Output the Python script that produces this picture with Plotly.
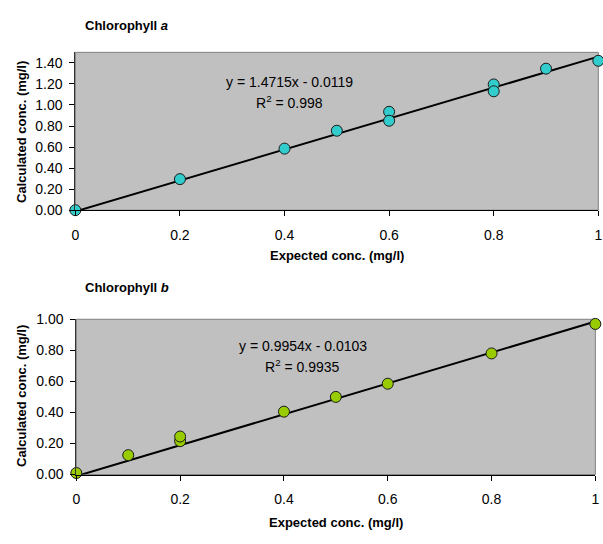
import plotly.graph_objects as go

W, H = 603, 544

# ---- data: Chlorophyll a ----
chl_a_expected = [0, 0.2, 0.4, 0.5, 0.6, 0.6, 0.8, 0.8, 0.9, 1.0]
chl_a_calculated = [0.0, 0.295, 0.585, 0.755, 0.935, 0.85, 1.195, 1.13, 1.345, 1.42]
chl_a_slope = 1.4715
chl_a_intercept = -0.0119
chl_a_r2 = "0.998"

# ---- data: Chlorophyll b ----
chl_b_expected = [0, 0.1, 0.2, 0.2, 0.4, 0.5, 0.6, 0.8, 1.0]
chl_b_calculated = [0.01, 0.125, 0.215, 0.245, 0.405, 0.50, 0.585, 0.78, 0.97]
chl_b_slope = 0.9954
chl_b_intercept = -0.0103
chl_b_r2 = "0.9935"

x_ticks = [0, 0.2, 0.4, 0.6, 0.8, 1]
ya_ticks = [0, 0.2, 0.4, 0.6, 0.8, 1.0, 1.2, 1.4]
yb_ticks = [0, 0.2, 0.4, 0.6, 0.8, 1.0]

FONT = "Liberation Sans, Arial, sans-serif"


def px_x(p):
    return p / W


def px_y(p):
    return 1 - p / H


fig = go.Figure()

# trendlines
for xs, slope, icpt, xa, ya in [
    (chl_a_expected, chl_a_slope, chl_a_intercept, "x", "y"),
    (chl_b_expected, chl_b_slope, chl_b_intercept, "x2", "y2"),
]:
    lx = [min(xs), max(xs)]
    ly = [slope * v + icpt for v in lx]
    fig.add_trace(go.Scatter(x=lx, y=ly, mode="lines", xaxis=xa, yaxis=ya,
                             line=dict(color="black", width=2),
                             showlegend=False, hoverinfo="skip"))

fig.add_trace(go.Scatter(x=chl_a_expected, y=chl_a_calculated, mode="markers",
                         xaxis="x", yaxis="y", cliponaxis=False,
                         marker=dict(size=11, color="#33CCCC",
                                     line=dict(color="#1a1a1a", width=1)),
                         showlegend=False))
fig.add_trace(go.Scatter(x=chl_b_expected, y=chl_b_calculated, mode="markers",
                         xaxis="x2", yaxis="y2", cliponaxis=False,
                         marker=dict(size=11, color="#99CC00",
                                     line=dict(color="#1a1a1a", width=1)),
                         showlegend=False))

xcommon = dict(range=[0, 1], tickvals=x_ticks, ticktext=[f"{v:g}" for v in x_ticks],
               showgrid=False, zeroline=False, showline=True, linecolor="black",
               linewidth=1, ticks="outside", ticklen=5, tickcolor="black",
               tickfont=dict(family=FONT, size=14, color="black"),
               ticklabelstandoff=7, ticklabeloverflow="allow")
ycommon = dict(showgrid=False, zeroline=False, showline=True, linecolor="#333333",
               linewidth=1, ticks="outside", ticklen=5, tickcolor="black",
               tickformat=".2f",
               tickfont=dict(family=FONT, size=14, color="black"),
               ticklabelstandoff=4)

fig.update_layout(
    width=W, height=H,
    margin=dict(l=0, r=0, t=0, b=0),
    paper_bgcolor="white",
    plot_bgcolor="#C0C0C0",
    font=dict(family=FONT, color="black"),
    xaxis=dict(domain=[px_x(72.3), px_x(602.3)], anchor="y", **xcommon),
    yaxis=dict(domain=[px_y(208.3), px_y(45.7)], anchor="x", range=[0, 1.5],
               tickvals=ya_ticks, **ycommon),
    xaxis2=dict(domain=[px_x(73.3), px_x(599.3)], anchor="y2", **xcommon),
    yaxis2=dict(domain=[px_y(480.7), px_y(320.7)], anchor="x2", range=[0, 1.0],
                tickvals=yb_ticks, **ycommon),
)

# gray plot-area borders
for xr, yr in [("x domain", "y domain"), ("x2 domain", "y2 domain")]:
    fig.add_shape(type="rect", xref=xr, yref=yr, x0=0, x1=1, y0=0, y1=1,
                  line=dict(color="#808080", width=1), layer="below")


def eq_text(slope, icpt):
    sign = "-" if icpt < 0 else "+"
    return f"y = {slope}x {sign} {abs(icpt)}"


ann = []
# chart titles
ann.append(dict(text="<b>Chlorophyll <i>a</i></b>", xref="paper", yref="paper",
                x=px_x(80), y=px_y(18), xanchor="left", yanchor="middle",
                showarrow=False, font=dict(family=FONT, size=13)))
ann.append(dict(text="<b>Chlorophyll <i>b</i></b>", xref="paper", yref="paper",
                x=px_x(80), y=px_y(288), xanchor="left", yanchor="middle",
                showarrow=False, font=dict(family=FONT, size=13)))
# axis titles
for xc, yc in [(337, 255), (336, 530)]:
    ann.append(dict(text="<b>Expected conc. (mg/l)</b>", xref="paper", yref="paper",
                    x=px_x(xc), y=px_y(yc), xanchor="center", yanchor="middle",
                    showarrow=False, font=dict(family=FONT, size=13)))
for yc in [128, 400]:
    ann.append(dict(text="<b>Calculated conc. (mg/l)</b>", xref="paper", yref="paper",
                    x=px_x(17), y=px_y(yc), xanchor="center", yanchor="middle",
                    textangle=-90, showarrow=False, font=dict(family=FONT, size=13)))
# equations
ann.append(dict(text=eq_text(chl_a_slope, chl_a_intercept), xref="x", yref="y",
                x=0.41, y=1.22, showarrow=False, font=dict(family=FONT, size=14)))
ann.append(dict(text=f"R<sup>2</sup> = {chl_a_r2}", xref="x", yref="y",
                x=0.41, y=1.03, showarrow=False, font=dict(family=FONT, size=14)))
ann.append(dict(text=eq_text(chl_b_slope, chl_b_intercept), xref="x2", yref="y2",
                x=0.436, y=0.827, showarrow=False, font=dict(family=FONT, size=14)))
ann.append(dict(text=f"R<sup>2</sup> = {chl_b_r2}", xref="x2", yref="y2",
                x=0.436, y=0.698, showarrow=False, font=dict(family=FONT, size=14)))
fig.update_layout(annotations=ann)

fig.write_html("out.html",
               config={"displayModeBar": False},
               post_script="document.body.style.margin='0';"
                           "document.body.style.overflow='hidden';")
